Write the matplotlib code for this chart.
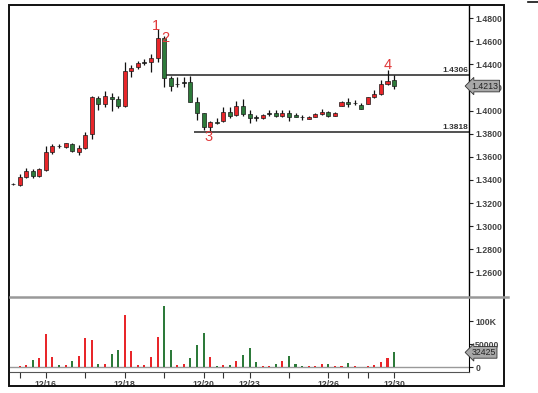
import matplotlib
matplotlib.use("Agg")
import matplotlib.pyplot as plt
from matplotlib.lines import Line2D
from matplotlib.patches import Rectangle
import numpy as np

plt.rcParams['font.family'] = ['Liberation Sans', 'DejaVu Sans']

# ---------------- data ----------------
opens = [1.3365, 1.3356, 1.3428, 1.3477, 1.3437, 1.3486, 1.3644, 1.3697, 1.3685, 1.3711,
         1.3639, 1.3674, 1.3795, 1.4112, 1.4055, 1.4121, 1.4098, 1.4040, 1.4343, 1.4375,
         1.4415, 1.4421, 1.4453, 1.4632, 1.4280, 1.4229, 1.4240, 1.4251, 1.4072, 1.3977,
         1.3861, 1.3904, 1.3913, 1.3991, 1.3962, 1.4043, 1.3971, 1.3941, 1.3933, 1.3975,
         1.3977, 1.3954, 1.3977, 1.3962, 1.3944, 1.3928, 1.3948, 1.3971, 1.3986, 1.3954,
         1.4043, 1.4072, 1.4062, 1.4049, 1.4058, 1.4116, 1.4141, 1.4231, 1.4266]
highs = [1.3375, 1.3451, 1.3501, 1.3491, 1.3506, 1.3694, 1.3711, 1.3711, 1.3723, 1.3723,
         1.3700, 1.3818, 1.4130, 1.4126, 1.4173, 1.4156, 1.4126, 1.4424, 1.4395, 1.4433,
         1.4445, 1.4488, 1.4705, 1.4647, 1.4300, 1.4289, 1.4294, 1.4300, 1.4121, 1.3980,
         1.3910, 1.3934, 1.4035, 1.4029, 1.4086, 1.4101, 1.4009, 1.3965, 1.3968, 1.4006,
         1.4006, 1.4009, 1.4006, 1.3977, 1.3962, 1.3955, 1.3980, 1.4014, 1.4000, 1.3990,
         1.4085, 1.4112, 1.4092, 1.4070, 1.4121, 1.4179, 1.4266, 1.4352, 1.4309]
lows = [1.3358, 1.3350, 1.3413, 1.3414, 1.3428, 1.3480, 1.3625, 1.3680, 1.3678, 1.3644,
        1.3616, 1.3668, 1.3757, 1.4006, 1.4029, 1.3997, 1.4020, 1.4035, 1.4294, 1.4362,
        1.4396, 1.4337, 1.4419, 1.4202, 1.4170, 1.4202, 1.4202, 1.4072, 1.3919, 1.3832,
        1.3818, 1.3885, 1.3904, 1.3935, 1.3956, 1.3950, 1.3890, 1.3910, 1.3930, 1.3950,
        1.3945, 1.3945, 1.3913, 1.3945, 1.3920, 1.3924, 1.3945, 1.3965, 1.3945, 1.3950,
        1.4040, 1.4029, 1.4050, 1.4010, 1.4055, 1.4112, 1.4135, 1.4225, 1.4188]
closes = [1.3366, 1.3428, 1.3477, 1.3437, 1.3492, 1.3644, 1.3697, 1.3692, 1.3717, 1.3650,
          1.3674, 1.3789, 1.4116, 1.4055, 1.4130, 1.4098, 1.4040, 1.4343, 1.4372, 1.4415,
          1.4419, 1.4459, 1.4632, 1.4280, 1.4216, 1.4232, 1.4244, 1.4078, 1.3977, 1.3856,
          1.3904, 1.3890, 1.3991, 1.3956, 1.4043, 1.3969, 1.3939, 1.3939, 1.3962, 1.3978,
          1.3954, 1.3982, 1.3948, 1.3942, 1.3941, 1.3948, 1.3971, 1.3986, 1.3954, 1.3982,
          1.4078, 1.4055, 1.4065, 1.4014, 1.4116, 1.4144, 1.4231, 1.4260, 1.4213]
volumes = [0, 3600, 5000, 15800, 19400, 73200, 21500, 4300, 4300, 12900,
           23700, 63900, 58900, 6500, 7900, 28000, 38000, 114200, 35200, 5000,
           5000, 21500, 65300, 133500, 36600, 5000, 6500, 20100, 47400, 75400,
           23000, 2200, 4300, 4300, 13600, 25800, 40900, 12200, 2200, 2900,
           8200, 13200, 24000, 8200, 2200, 2200, 2900, 7000, 7000, 2200,
           2200, 10000, 2900, 0, 2900, 5000, 12200, 20800, 32425]

date_tick_idx = [5, 17, 29, 36, 48, 58]
date_tick_labels = ['12/16', '12/18', '12/20', '12/23', '12/26', '12/30']
minor_tick_idx = [1, 11, 23, 32, 42, 51, 54]

price_ticks = [1.26, 1.28, 1.30, 1.32, 1.34, 1.36, 1.38, 1.40, 1.42, 1.44, 1.46, 1.48]
vol_ticks = [0, 50000, 100000]
vol_tick_labels = ['0', '50000', '100K']

resistance = 1.4306
support = 1.3818
res_start, sup_start = 22.8, 27.6
last_price = 1.4213
last_volume = 32425
wave_labels = ['1', '2', '3', '4']
wave_x = [21.8, 23.2, 29.8, 57.0]
wave_y = [1.4735, 1.4630, 1.3770, 1.4395]

# ---------------- figure ----------------
W, H = 538, 393
fig = plt.figure(figsize=(W / 100, H / 100), dpi=100)
fig.patch.set_facecolor('white')

def fx(px):
    return px / W

def fy(py):
    return 1 - py / H

left, right = fx(10), fx(469)
ax = fig.add_axes([left, fy(297), right - left, fy(5) - fy(297)])
axv = fig.add_axes([left, fy(372), right - left, fy(297) - fy(372)])

idx = np.arange(len(opens))
o = np.array(opens); c = np.array(closes); h = np.array(highs); l = np.array(lows)
RED = '#e8262a'
GREEN = '#2d7a3a'
up = c >= o
cols = [RED if u else GREEN for u in up]

# wicks
ax.vlines(idx, l, h, color='#111111', lw=0.9, zorder=2)
bottoms = np.minimum(o, c)
heights = np.maximum(np.abs(c - o), 0.0004)
body_cols = [col if abs(cc - oo) > 0.0006 else '#111111' for col, cc, oo in zip(cols, c, o)]
ax.bar(idx, heights, bottom=bottoms, width=0.62, color=body_cols,
       edgecolor='#1a1a1a', linewidth=0.5, zorder=3)

xlim = (-0.46, 69.4)
ax.set_xlim(*xlim)
ax.set_ylim(1.2386, 1.4915)

# support / resistance
ax.hlines(resistance, res_start, xlim[1], color='#222222', lw=1.1, zorder=1)
ax.hlines(support, sup_start, xlim[1], color='#222222', lw=1.1, zorder=1)
ax.text(xlim[1] - 0.15, resistance + 0.0008, f'{resistance:.4f}', ha='right', va='bottom',
        fontsize=6, fontweight='bold', color='#333333')
ax.text(xlim[1] - 0.15, support + 0.0008, f'{support:.4f}', ha='right', va='bottom',
        fontsize=6, fontweight='bold', color='#333333')

for t, xx, yy in zip(wave_labels, wave_x, wave_y):
    ax.text(xx, yy, t, ha='center', va='center', fontsize=10.5, color='#e0393a')

ax.yaxis.tick_right()
ax.set_yticks(price_ticks)
ax.set_yticklabels([f'{v:.4f}' for v in price_ticks])
ax.tick_params(axis='y', direction='out', length=3, width=0.8, labelsize=6.3,
               labelcolor='#444444', color='#222222', pad=1.5)
ax.set_xticks([])
for s in ['top', 'bottom', 'left']:
    ax.spines[s].set_visible(False)
ax.spines['right'].set_linewidth(1.0)

ax.text(1.005, last_price, f'{last_price:.4f}', transform=ax.get_yaxis_transform(),
        ha='left', va='center', fontsize=6.3, color='#222222',
        bbox=dict(boxstyle='larrow,pad=0.15', fc='#a8a8a8', ec='#333333', lw=0.6))

# ---------------- volume ----------------
vcols = cols
axv.bar(idx, volumes, width=0.32, color=vcols, zorder=3)
axv.set_xlim(*xlim)
axv.set_ylim(-10200, 152800)
axv.axhline(0, color='#999999', lw=1.0, zorder=1)
axv.yaxis.tick_right()
axv.set_yticks(vol_ticks)
axv.set_yticklabels(vol_tick_labels)
axv.tick_params(axis='y', direction='out', length=3, width=0.8, labelsize=6.3,
                labelcolor='#444444', color='#222222', pad=1.5)
axv.set_xticks(date_tick_idx)
axv.set_xticklabels(date_tick_labels)
axv.set_xticks(minor_tick_idx, minor=True)
axv.tick_params(axis='x', which='both', direction='out', length=4, width=0.8,
                labelsize=6.3, labelcolor='#444444', color='#333333', pad=1.5)
for lab in axv.get_xticklabels():
    lab.set_fontweight('bold')
axv.spines['top'].set_visible(False)
axv.spines['left'].set_visible(False)
axv.spines['bottom'].set_color('#555555')
axv.text(1.005, last_volume, f'{last_volume}', transform=axv.get_yaxis_transform(),
         ha='left', va='center', fontsize=6.3, color='#222222',
         bbox=dict(boxstyle='larrow,pad=0.15', fc='#a8a8a8', ec='#333333', lw=0.6))

for lab in ax.get_yticklabels() + axv.get_yticklabels():
    lab.set_fontweight('bold')

# separator and outer frame
fig.add_artist(Line2D([fx(10), fx(508)], [fy(297), fy(297)], color='#999999', lw=1.8))
fig.add_artist(Rectangle((fx(9), fy(386)), fx(504) - fx(9), fy(5) - fy(386),
                         fill=False, ec='#111111', lw=1.4))
fig.add_artist(Line2D([fx(528), fx(538)], [fy(2), fy(2)], color='#111111', lw=1.2))

fig.savefig('out.png', dpi=100, facecolor='white')
